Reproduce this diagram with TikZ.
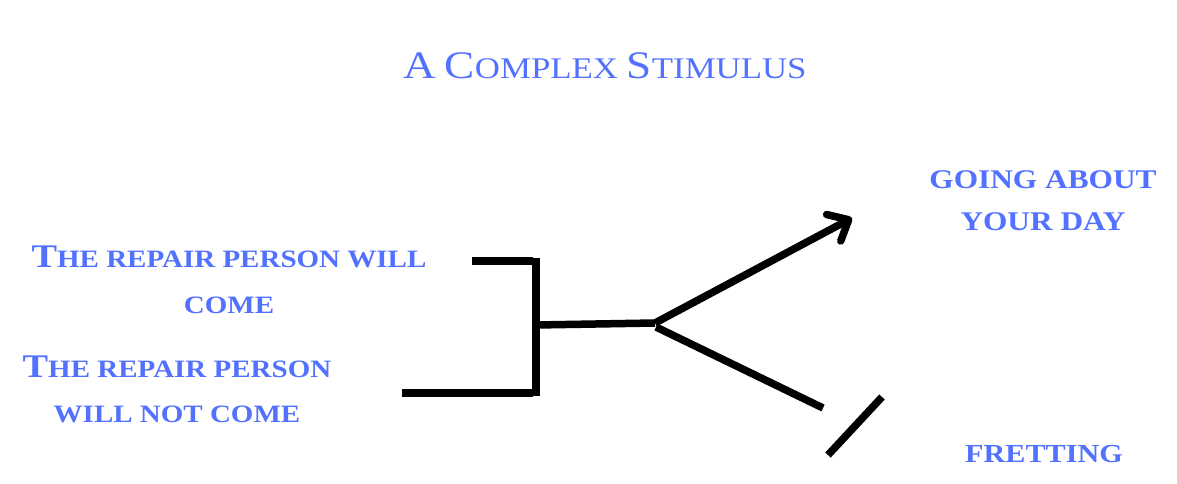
\documentclass[tikz,border=0pt]{standalone}
\usepackage{fontspec}
\setmainfont[FakeStretch=1.16]{Liberation Serif}
\usetikzlibrary{arrows.meta}
\definecolor{sblue}{HTML}{5271FF}
\newcommand\inicap[1]{{\fontsize{33}{46}\selectfont #1}}
\newcommand\ttlcap[1]{{\fontsize{39}{46}\selectfont #1}}
\tikzset{
  lbl/.style={text=sblue, font=\bfseries\fontsize{25}{46}\selectfont, align=center, inner sep=0pt, anchor=base},
  rlbl/.style={text=sblue, font=\bfseries\fontsize{27}{42}\selectfont, align=center, inner sep=0pt, anchor=base},
  ttl/.style={text=sblue, font=\fontsize{30}{40}\selectfont, inner sep=0pt, anchor=base},
  bar/.style={line width=7.5pt, line cap=butt, black},
}
\begin{document}
\begin{tikzpicture}[x=1pt,y=-1pt]
\useasboundingbox (0,0) rectangle (1177,484);
\node[ttl] (title) at (605,79) {\ttlcap{A} \ttlcap{C}OMPLEX \ttlcap{S}TIMULUS};
\node[lbl] (come) at (229,313) {\inicap{T}HE REPAIR PERSON WILL\\COME};
\node[lbl, font=\bfseries\fontsize{25}{45}\selectfont] (notcome) at (177,422) {\inicap{T}HE REPAIR PERSON\\WILL NOT COME};
\node[rlbl] (going) at (1043,230) {GOING ABOUT\\YOUR DAY};
\node[rlbl, font=\bfseries\fontsize{26}{42}\selectfont] (fret) at (1044,462) {FRETTING};
% bracket geometry
\coordinate (topL) at (472,261);
\coordinate (topR) at (533,261);
\coordinate (vTop) at (536,258);
\coordinate (vBot) at (536,396);
\coordinate (botL) at (402,393);
\coordinate (botR) at (533,393);
\coordinate (mid) at (536,325);
\coordinate (fork) at (655,323);
\coordinate (upEnd) at (852,218);
\coordinate (forkB) at (656,327);
\coordinate (lowEnd) at (823,408);
\coordinate (slashA) at (828,455);
\coordinate (slashB) at (882,397);
\draw[bar] (topL) -- (topR);
\draw[bar] (vTop) -- (vBot);
\draw[bar] (botL) -- (botR);
\draw[bar] (mid) -- (fork);
\draw[bar, -{Straight Barb[length=17pt,width=30pt,round]}] (fork) -- (upEnd);
\draw[bar] (forkB) -- (lowEnd);
\draw[bar] (slashA) -- (slashB);
\end{tikzpicture}
\end{document}
